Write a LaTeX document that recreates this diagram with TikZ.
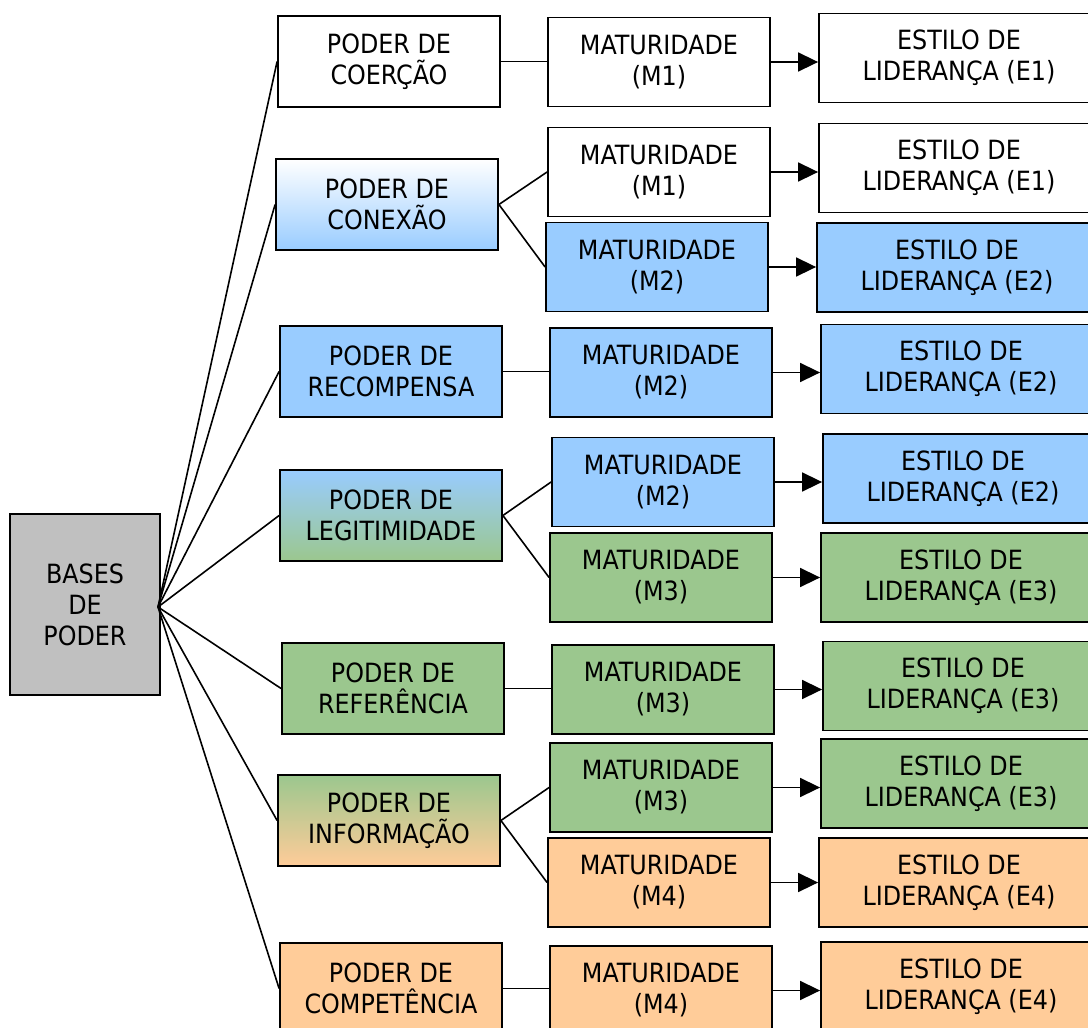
\documentclass[tikz,border=0pt]{standalone}
\usepackage{fontspec}
\newfontfamily\boxfont{DejaVu Sans Condensed}
\usetikzlibrary{arrows.meta}
\definecolor{cblue}{RGB}{153,204,255}
\definecolor{cgreen}{RGB}{155,199,142}
\definecolor{corange}{RGB}{255,204,153}
\definecolor{cgray}{RGB}{192,192,192}
\tikzset{
  box/.style={draw=black, line width=1.8pt, inner sep=0pt, align=center,
    font=\boxfont\fontsize{26.5}{31}\selectfont},
  pbox/.style={box, minimum width=222pt, minimum height=91pt},
  mbox/.style={box, minimum width=222pt, minimum height=89pt},
  ebox/.style={box, minimum width=280pt, minimum height=89pt},
  plain/.style={fill=white},
  blue/.style={fill=cblue},
  green/.style={fill=cgreen},
  orange/.style={fill=corange},
  link/.style={line width=1.6pt, draw=black},
  flow/.style={line width=1.6pt, draw=black, -{Triangle[length=20pt,width=19pt]}}
}
\begin{document}
\begin{tikzpicture}[x=1pt,y=-1pt]
\useasboundingbox (0,0) rectangle (1088,1028);
\clip (0,0) rectangle (1088,1028);
\fill[white] (0,0) rectangle (1088,1028);

% root
\node[box, fill=cgray, minimum width=150pt, minimum height=181pt] (b) at (85,604.5) {BASES\\DE\\PODER};
\coordinate (hub) at (158,607);

% bases of power
\node[pbox, plain] (p1) at (389,61.5) {PODER DE\\COERÇÃO};
\node[pbox, top color=white, bottom color=cblue, draw=black] (p2) at (387,204.5) {PODER DE\\CONEXÃO};
\node[pbox, blue] (p3) at (391,371.5) {PODER DE\\RECOMPENSA};
\node[pbox, top color=cblue, bottom color=cgreen, draw=black] (p4) at (391,515.5) {PODER DE\\LEGITIMIDADE};
\node[pbox, green] (p5) at (393,688.5) {PODER DE\\REFERÊNCIA};
\node[pbox, top color=cgreen, bottom color=corange, draw=black] (p6) at (389,820.5) {PODER DE\\INFORMAÇÃO};
\node[pbox, orange] (p7) at (391,988.5) {PODER DE\\COMPETÊNCIA};

% maturity levels
\node[mbox, plain]  (m1)  at (659,62)    {MATURIDADE\\(M1)};
\node[mbox, plain]  (m2)  at (659,172)   {MATURIDADE\\(M1)};
\node[mbox, blue]   (m3)  at (657,267)   {MATURIDADE\\(M2)};
\node[mbox, blue]   (m4)  at (661,372.5) {MATURIDADE\\(M2)};
\node[mbox, blue]   (m5)  at (663,482)   {MATURIDADE\\(M2)};
\node[mbox, green]  (m6)  at (661,577.5) {MATURIDADE\\(M3)};
\node[mbox, green]  (m7)  at (663,689.5) {MATURIDADE\\(M3)};
\node[mbox, green]  (m8)  at (661,787.5) {MATURIDADE\\(M3)};
\node[mbox, orange] (m9)  at (659,882.5) {MATURIDADE\\(M4)};
\node[mbox, orange] (m10) at (661,990.5) {MATURIDADE\\(M4)};

% leadership styles
\node[ebox, plain]  (e1)  at (959,58)    {ESTILO DE\\LIDERANÇA (E1)};
\node[ebox, plain]  (e2)  at (959,168)   {ESTILO DE\\LIDERANÇA (E1)};
\node[ebox, blue]   (e3)  at (957,267.5) {ESTILO DE\\LIDERANÇA (E2)};
\node[ebox, blue]   (e4)  at (961,369)   {ESTILO DE\\LIDERANÇA (E2)};
\node[ebox, blue]   (e5)  at (963,478.5) {ESTILO DE\\LIDERANÇA (E2)};
\node[ebox, green]  (e6)  at (961,577.5) {ESTILO DE\\LIDERANÇA (E3)};
\node[ebox, green]  (e7)  at (963,686)   {ESTILO DE\\LIDERANÇA (E3)};
\node[ebox, green]  (e8)  at (961,783.5) {ESTILO DE\\LIDERANÇA (E3)};
\node[ebox, orange] (e9)  at (959,882.5) {ESTILO DE\\LIDERANÇA (E4)};
\node[ebox, orange] (e10) at (961,986.5) {ESTILO DE\\LIDERANÇA (E4)};

% fan from the root
\foreach \p in {p1,p2,p3,p4,p5,p6,p7}
  \draw[link] (hub) -- (\p.west);

% power to maturity
\draw[link] (p1.east) -- (p1.east -| m1.west);
\draw[link] (p2.east) -- (m2.west);
\draw[link] (p2.east) -- (m3.west);
\draw[link] (p3.east) -- (p3.east -| m4.west);
\draw[link] (p4.east) -- (m5.west);
\draw[link] (p4.east) -- (m6.west);
\draw[link] (p5.east) -- (p5.east -| m7.west);
\draw[link] (p6.east) -- (m8.west);
\draw[link] (p6.east) -- (m9.west);
\draw[link] (p7.east) -- (p7.east -| m10.west);

% maturity to style
\foreach \i in {1,...,10}
  \draw[flow] (m\i.east) -- (m\i.east -| e\i.west);
\end{tikzpicture}
\end{document}
